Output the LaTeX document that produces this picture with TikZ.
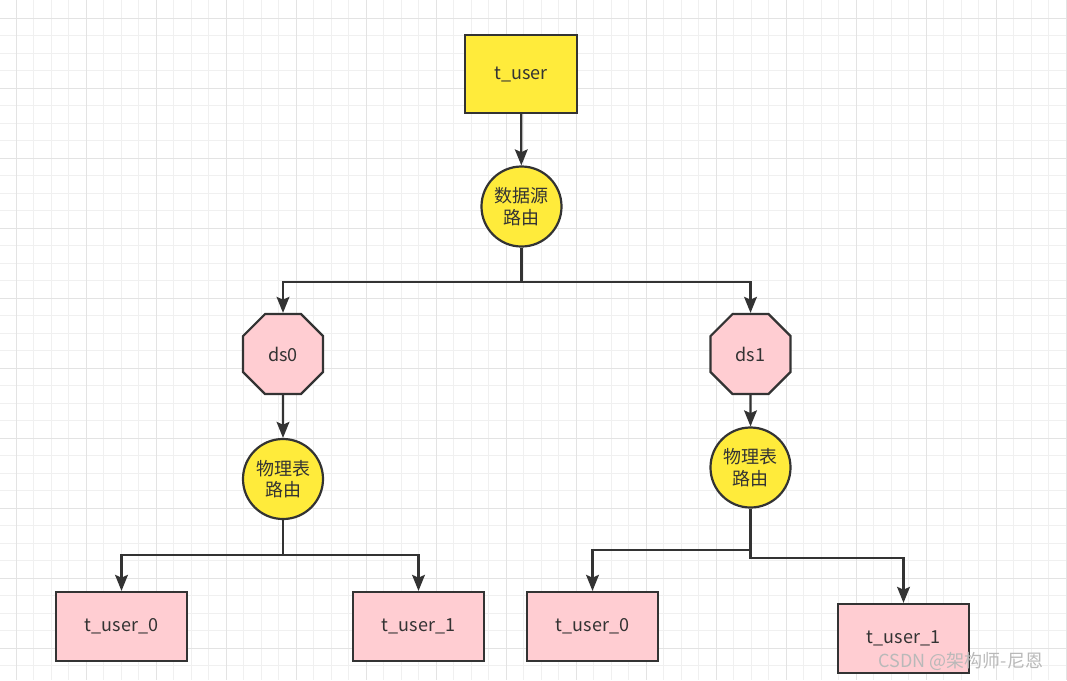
\documentclass[tikz,border=0pt]{standalone}
\usepackage{fontspec}
\setmainfont{Noto Sans CJK SC}
\usepackage{tikz}
\usetikzlibrary{arrows.meta, positioning, calc, shapes.geometric, shapes.misc}
\usepackage{xcolor}
\definecolor{ink}{HTML}{333333}
\definecolor{yellowfill}{HTML}{FFEB3B}
\definecolor{pinkfill}{HTML}{FFCDD2}
\definecolor{gridminor}{HTML}{F0F0F0}
\definecolor{gridmajor}{HTML}{E3E3E3}

\begin{document}
\begin{tikzpicture}[
    x=0.025cm, y=-0.025cm,
    every node/.style={text=ink, font=\fontsize{12.8}{15.4}\selectfont, align=center, line width=0.055cm, draw=ink},
    block/.style={rectangle, fill=yellowfill, minimum width=2.8cm, minimum height=1.95cm},
    routeblock/.style={circle, fill=yellowfill, minimum size=2cm, inner sep=0pt},
    dsblock/.style={chamfered rectangle, chamfered rectangle xsep=0.46cm, chamfered rectangle ysep=0.46cm, fill=pinkfill, minimum width=2cm, minimum height=2cm, inner sep=0pt},
    tableblock/.style={rectangle, fill=pinkfill, minimum width=3.275cm, minimum height=1.725cm},
    line/.style={draw=ink, line width=0.055cm},
    arrow/.style={line, -{Stealth[length=0.4cm, width=0.32cm, inset=0.07cm]}}
]
    % Background grid
    \useasboundingbox (0,0) rectangle (1067,680);
    \fill[white] (0,0) rectangle (1067,680);
    \foreach \i in {0,...,60} {
        \draw[gridminor, line width=0.025cm] ({16+17.5*\i},0) -- ({16+17.5*\i},680);
    }
    \foreach \i in {0,...,38} {
        \draw[gridminor, line width=0.025cm] (0,{18+17.5*\i}) -- (1067,{18+17.5*\i});
    }
    \foreach \i in {0,...,15} {
        \draw[gridmajor, line width=0.025cm] ({16+70*\i},0) -- ({16+70*\i},680);
    }
    \foreach \i in {0,...,9} {
        \draw[gridmajor, line width=0.025cm] (0,{18+70*\i}) -- (1067,{18+70*\i});
    }

    % Logic table
    \node[block] (tuser) at (521,74) {t\_user};

    % Data source routing
    \node[routeblock] (dsroute) at (521.5,206.5) {数据源\\路由};

    % Data sources
    \node[dsblock] (ds0) at (283,354) {ds0};
    \node[dsblock] (ds1) at (750.5,354) {ds1};

    % Table routing
    \node[routeblock] (tabroute0) at (283,479) {物理表\\路由};
    \node[routeblock] (tabroute1) at (750.5,467.5) {物理表\\路由};

    % Physical tables
    \node[tableblock] (t00) at (121.5,626.5) {t\_user\_0};
    \node[tableblock] (t01) at (418.5,626.5) {t\_user\_1};
    \node[tableblock] (t10) at (592.5,626.5) {t\_user\_0};
    \node[tableblock] (t11) at (903.5,638.5) {t\_user\_1};

    % Arrows
    \draw[arrow] (tuser) -- (dsroute);
    \draw[line] (dsroute.south) -- ++(0,34) coordinate (split);
    \draw[arrow] (split) -| (ds0);
    \draw[arrow] (split) -| (ds1);
    \draw[arrow] (ds0) -- (tabroute0);
    \draw[arrow] (ds1) -- (tabroute1);
    \draw[line] (tabroute0.south) -- ++(0,35) coordinate (split0);
    \draw[arrow] (split0) -| (t00);
    \draw[arrow] (split0) -| (t01);
    \draw[line] (tabroute1.south) -- ++(0,41) coordinate (split1);
    \draw[arrow] (split1) -| (t10);
    \draw[arrow] (split1) -- ++(0,8) -| (t11);

    % Watermark
    \node[draw=none, text=gray!55] (mark) at (961,661) {CSDN @架构师-尼恩};
\end{tikzpicture}
\end{document}
